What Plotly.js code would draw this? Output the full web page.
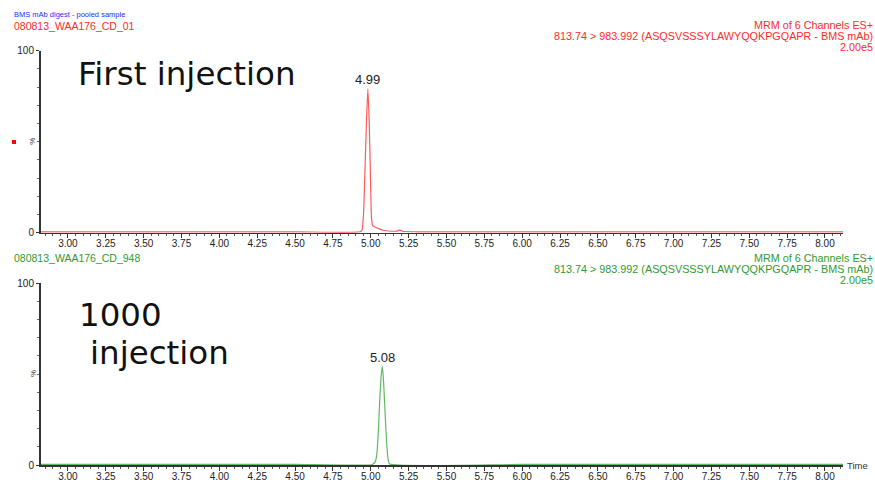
<!DOCTYPE html>
<html>
<head>
<meta charset="utf-8">
<script src="https://cdn.plot.ly/plotly-3.0.1.min.js"></script>
<style>html,body{margin:0;padding:0;background:#fff;}#chart{width:875px;height:480px;}</style>
</head>
<body>
<div id="chart"></div>
<script>
// ---- data ----
var firstTime = [2.82, 3.50, 4.50, 4.93, 4.942, 4.952, 4.962, 4.972, 4.981, 4.990, 4.998, 5.005, 5.012, 5.03, 5.06, 5.09, 5.15, 5.175, 5.19, 5.21, 5.30, 6.00, 7.00, 8.12];
var firstIntensity = [0.5, 0.5, 0.5, 0.5, 1.5, 10, 35, 62, 79, 60, 30, 8, 4, 3, 2, 1.2, 0.8, 0.9, 1.5, 0.8, 0.5, 0.5, 0.5, 0.5];
var lastTime = [2.82, 4.00, 4.50, 5.01, 5.03, 5.04, 5.05, 5.06, 5.07, 5.077, 5.085, 5.095, 5.105, 5.115, 5.125, 6.00, 7.00, 8.12];
var lastIntensity = [0.3, 0.3, 0.3, 0.3, 2, 6, 18, 37, 50, 54, 45, 28, 12, 3, 0.5, 0.3, 0.3, 0.3];
var peakLabels = ["4.99", "5.08"];
var peakTimes = [4.981, 5.077];
var peakHeights = [79, 54];
var xTickVals = [3.00, 3.25, 3.50, 3.75, 4.00, 4.25, 4.50, 4.75, 5.00, 5.25, 5.50, 5.75, 6.00, 6.25, 6.50, 6.75, 7.00, 7.25, 7.50, 7.75, 8.00];
var xTickText = ["3.00","3.25","3.50","3.75","4.00","4.25","4.50","4.75","5.00","5.25","5.50","5.75","6.00","6.25","6.50","6.75","7.00","7.25","7.50","7.75","8.00"];
var yTickVals = [0, 100];
var yTickText = ["0", "100"];
var sampleName = "BMS mAb digest - pooled sample";
var fileNames = ["080813_WAA176_CD_01", "080813_WAA176_CD_948"];
var channelLine1 = "MRM of 6 Channels ES+";
var channelLine2 = "813.74 > 983.992 (ASQSVSSSYLAWYQQKPGQAPR - BMS mAb)";
var scaleText = "2.00e5";
var panelTitles = ["First injection", "1000", "injection"];

// ---- layout helpers ----
var W = 875, H = 480;
function px(x){ return x / W; }
function py(y){ return 1 - y / H; }
var RED = '#ff2a2a', RED_LINE = '#ff5a5a';
var GREEN = '#2f9a2f', GREEN_LINE = '#62b862';
var AX = '#333333';
var FONT = 'Liberation Sans, Arial, sans-serif';
var BIG = 'DejaVu Sans, Verdana, sans-serif';

var traces = [
  {x: firstTime, y: firstIntensity, type: 'scatter', mode: 'lines', xaxis: 'x', yaxis: 'y',
   line: {color: RED_LINE, width: 1.2, shape: 'spline', smoothing: 0.5}, hoverinfo: 'skip'},
  {x: lastTime, y: lastIntensity, type: 'scatter', mode: 'lines', xaxis: 'x2', yaxis: 'y2',
   line: {color: GREEN_LINE, width: 1.2, shape: 'spline', smoothing: 0.5}, hoverinfo: 'skip'}
];

function xAxis(anchor){
  return {
    domain: [px(41), px(843)], range: [2.822, 8.119], anchor: anchor,
    tickmode: 'array', tickvals: xTickVals, ticktext: xTickText,
    ticks: 'outside', ticklen: 4, tickwidth: 1, tickcolor: AX,
    ticklabelstandoff: -3,
    minor: {dtick: 0.05, tick0: 3, ticks: 'outside', ticklen: 2, tickcolor: '#555', tickwidth: 1},
    showline: true, linecolor: AX, linewidth: 1.5,
    showgrid: false, zeroline: false,
    tickfont: {family: FONT, size: 10, color: '#222'}
  };
}
function yAxis(anchor, top, bottom){
  return {
    domain: [py(bottom), py(top)], range: [0, 100], anchor: anchor,
    tickmode: 'array', tickvals: yTickVals, ticktext: yTickText,
    ticks: 'outside', ticklen: 3, tickwidth: 1, tickcolor: AX,
    minor: {dtick: 10, tick0: 0, ticks: 'outside', ticklen: 2, tickcolor: '#666', tickwidth: 1},
    showline: true, linecolor: AX, linewidth: 2,
    showgrid: false, zeroline: false,
    tickfont: {family: FONT, size: 10, color: '#222'}
  };
}

var ann = [];
function txt(x, y, text, color, size, xanchor, extra, family){
  var a = {xref: 'paper', yref: 'paper', x: px(x), y: py(y), text: text, showarrow: false,
    xanchor: xanchor || 'left', yanchor: 'middle', font: {family: family || FONT, size: size, color: color}};
  if (extra) for (var k in extra) a[k] = extra[k];
  ann.push(a);
}
// header texts
txt(12, 14, sampleName, '#2a2aff', 7.5);
txt(12, 26, fileNames[0], RED, 10.5);
txt(875, 25, channelLine1, RED, 10.8, 'right');
txt(875, 36, channelLine2, RED, 10.8, 'right');
txt(875, 47, scaleText, RED, 10.8, 'right');
txt(12, 258, fileNames[1], GREEN, 10.5);
txt(875, 258, channelLine1, GREEN, 10.8, 'right');
txt(875, 269, channelLine2, GREEN, 10.8, 'right');
txt(875, 280, scaleText, GREEN, 10.8, 'right');
// big panel titles
txt(76, 74, panelTitles[0], '#111', 32.5, 'left', null, BIG);
txt(77, 315, panelTitles[1], '#111', 32.5, 'left', null, BIG);
txt(88, 353, panelTitles[2], '#111', 32.5, 'left', null, BIG);
// % labels
txt(33, 141.7, '%', '#333', 8, 'center', {textangle: -90});
txt(33, 374, '%', '#333', 8, 'center', {textangle: -90});
// Time label
txt(845, 465, 'Time', '#333', 9.5, 'left');
// peak labels
ann.push({xref:'x', yref:'y', x: peakTimes[0], y: peakHeights[0], text: peakLabels[0], showarrow:false,
  xanchor:'center', yanchor:'bottom', font:{family: FONT, size: 13, color:'#222'}});
ann.push({xref:'x2', yref:'y2', x: peakTimes[1], y: peakHeights[1], text: peakLabels[1], showarrow:false,
  xanchor:'center', yanchor:'bottom', font:{family: FONT, size: 13, color:'#222'}});

var layout = {
  width: W, height: H,
  margin: {l: 0, r: 0, t: 0, b: 0},
  paper_bgcolor: '#ffffff', plot_bgcolor: '#ffffff',
  showlegend: false,
  xaxis: xAxis('y'),
  yaxis: yAxis('x', 50.7, 232.7),
  xaxis2: xAxis('y2'),
  yaxis2: yAxis('x2', 283, 465),
  annotations: ann,
  shapes: [
    {type: 'rect', xref: 'paper', yref: 'paper', x0: px(12), x1: px(16), y0: py(144), y1: py(140),
     fillcolor: '#ff0000', line: {width: 0}}
  ]
};

Plotly.newPlot('chart', traces, layout, {staticPlot: true, displayModeBar: false});
</script>
</body>
</html>
